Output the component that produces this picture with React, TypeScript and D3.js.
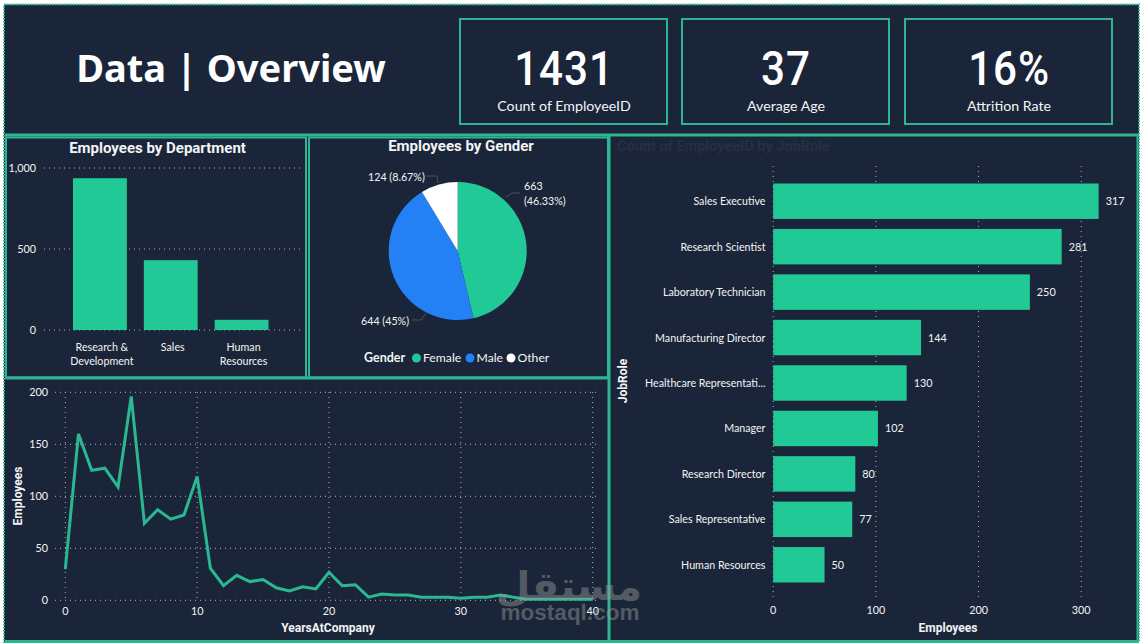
// Employee overview dashboard drawn with D3 scales and shapes
import React, { useEffect } from 'react';
import * as d3 from 'd3';

const kpiValues = ['1431', '37', '16%'];
const kpiLabels = ['Count of EmployeeID', 'Average Age', 'Attrition Rate'];

const departments = ['Research & Development', 'Sales', 'Human Resources'];
const departmentCounts = [937, 431, 63];
const departmentTicks = [0, 500, 1000];

const genders = ['Female', 'Male', 'Other'];
const genderCounts = [663, 644, 124];
const genderColors = ['#21c997', '#2481f5', '#ffffff'];

const years = d3.range(0, 41);
const yearCounts = [
  30, 160, 125, 127, 109, 196, 74, 87, 78, 82, 119, 31, 14, 24, 18, 20, 12, 9, 13, 11, 27,
  14, 15, 3, 6, 5, 5, 3, 3, 3, 2, 3, 3, 5, 3, 1, 1, 1, 1, 1, 1,
];
const yearXTicks = [0, 10, 20, 30, 40];
const yearYTicks = [0, 50, 100, 150, 200];

const jobRoles = [
  'Sales Executive',
  'Research Scientist',
  'Laboratory Technician',
  'Manufacturing Director',
  'Healthcare Representati...',
  'Manager',
  'Research Director',
  'Sales Representative',
  'Human Resources',
];
const jobRoleCounts = [317, 281, 250, 144, 130, 102, 80, 77, 50];
const jobRoleTicks = [0, 100, 200, 300];

const BG = '#1b2539';
const BORDER = '#2db592';
const BAR = '#21c997';
const GRID = '#aeb4bd';
const TEXT = '#f2f4f5';
const UI_FONT = 'Lato, "Open Sans", sans-serif';
const DIN_FONT = 'Roboto, "Noto Sans", sans-serif';

const App: React.FC = () => {
  useEffect(() => {
    document.body.style.margin = '0';
    document.body.style.background = '#ffffff';
  }, []);

  // Department bars
  const deptX = d3.scaleBand<string>().domain(departments).range([73, 268.5]).paddingInner(0.24).paddingOuter(0);
  const deptY = d3.scaleLinear().domain([0, 1000]).range([330, 168]);
  const deptLines: Record<string, string[]> = {
    'Research & Development': ['Research &', 'Development'],
    Sales: ['Sales'],
    'Human Resources': ['Human', 'Resources'],
  };

  // Gender pie
  const pieCx = 457.7;
  const pieCy = 251;
  const pieR = 69;
  const arc = d3.arc<d3.PieArcDatum<number>>().innerRadius(0).outerRadius(pieR);
  const slices = d3.pie<number>().sort(null)(genderCounts);

  // Tenure line
  const lineX = d3.scaleLinear().domain([0, 40]).range([65.3, 592.7]);
  const lineY = d3.scaleLinear().domain([0, 200]).range([600.3, 392.3]);
  const tenurePath = d3
    .line<number>()
    .x((d) => lineX(d))
    .y((_, i) => lineY(yearCounts[i]))(years);

  // Job role bars
  const roleX = d3.scaleLinear().domain([0, 300]).range([773.2, 1081.2]);
  const roleY = d3.scaleBand<string>().domain(jobRoles).range([178.5, 587.5]).paddingInner(0.22).paddingOuter(0.11);

  const cardX = [460, 682, 905];

  return (
    <svg
      width={1141}
      height={643}
      style={{ display: 'block', position: 'absolute', left: 0, top: 0 }}
      fontFamily={UI_FONT}
    >
      <rect x={0} y={0} width={1141} height={643} fill="#ffffff" />
      <rect x={4} y={4.5} width={1135} height={638} fill={BG} stroke={BORDER} strokeWidth={2} strokeDasharray="1.5 1.5" />

      {/* Header */}
      <text x={231} y={82} textAnchor="middle" fontSize={38} fontWeight={700} fill="#ffffff" fontFamily='"Noto Sans", sans-serif'>
        Data | Overview
      </text>
      {cardX.map((x, i) => (
        <g key={kpiLabels[i]}>
          <rect x={x} y={19} width={207} height={105} fill="none" stroke={BORDER} strokeWidth={2} />
          <text
            transform={`translate(${x + 104},85) scale(0.88,1)`}
            textAnchor="middle"
            fontSize={48}
            fontWeight={500}
            letterSpacing={1}
            fill="#ffffff"
            fontFamily={DIN_FONT}
          >
            {kpiValues[i]}
          </text>
          <text x={x + 104} y={111} textAnchor="middle" fontSize={14.2} fill={TEXT}>
            {kpiLabels[i]}
          </text>
        </g>
      ))}

      {/* Panel frames */}
      <g fill="none" stroke={BORDER} strokeWidth={2}>
        <line x1={5} x2={1139} y1={135} y2={135} strokeWidth={3} />
        <rect x={6} y={137.5} width={300} height={240} />
        <rect x={309} y={137.5} width={299} height={240} />
        <line x1={5} x2={609} y1={378} y2={378} strokeWidth={3} />
        <line x1={609} x2={609} y1={135} y2={641} strokeWidth={3} />
        <line x1={5} x2={1139} y1={641.5} y2={641.5} strokeWidth={3} />
      </g>

      {/* Employees by Department */}
      <text x={157.5} y={153} textAnchor="middle" fontSize={15} fontWeight={700} fill={TEXT} fontFamily={DIN_FONT}>
        Employees by Department
      </text>
      {departmentTicks.map((t) => (
        <g key={t}>
          <line x1={44} x2={300} y1={deptY(t)} y2={deptY(t)} stroke={GRID} strokeWidth={1} strokeDasharray="1 4" />
          <text x={36} y={deptY(t) + 4} textAnchor="end" fontSize={10.8} fill={TEXT}>
            {d3.format(',')(t)}
          </text>
        </g>
      ))}
      {departments.map((d, i) => (
        <g key={d}>
          <rect x={deptX(d)} y={deptY(departmentCounts[i])} width={deptX.bandwidth()} height={deptY(0) - deptY(departmentCounts[i])} fill={BAR} />
          {deptLines[d].map((ln, j) => (
            <text key={ln} x={deptX(d)! + deptX.bandwidth() / 2 + 2} y={351 + j * 14} textAnchor="middle" fontSize={10.7} fill={TEXT}>
              {ln}
            </text>
          ))}
        </g>
      ))}

      {/* Employees by Gender */}
      <text x={461} y={151} textAnchor="middle" fontSize={15} fontWeight={700} fill={TEXT} fontFamily={DIN_FONT}>
        Employees by Gender
      </text>
      <g transform={`translate(${pieCx},${pieCy})`}>
        {slices.map((s, i) => (
          <path key={genders[i]} d={arc(s) ?? ''} fill={genderColors[i]} />
        ))}
      </g>
      <g fill="none" stroke="#4a5364" strokeWidth={1}>
        <path d={d3.line()([[506, 197], [512, 193], [520, 193]]) ?? ''} />
        <path d={d3.line()([[427, 312], [421, 320], [412, 320]]) ?? ''} />
        <path d={d3.line()([[438, 183], [437, 176], [426, 176]]) ?? ''} />
      </g>
      <g fontSize={10.7} fill={TEXT}>
        <text x={524} y={190}>{genderCounts[0]}</text>
        <text x={524} y={205}>(46.33%)</text>
        <text x={361} y={325}>{genderCounts[1]} (45%)</text>
        <text x={368} y={181}>{genderCounts[2]} (8.67%)</text>
      </g>
      <text x={364} y={362} fontSize={12.5} fontWeight={700} fill={TEXT}>
        Gender
      </text>
      {genders.map((g, i) => {
        const dotX = [416.5, 470, 511][i];
        return (
          <g key={g}>
            <circle cx={dotX} cy={358} r={4.5} fill={genderColors[i]} />
            <text x={dotX + 6.5} y={362} fontSize={12.2} fill={TEXT}>
              {g}
            </text>
          </g>
        );
      })}

      {/* Tenure line */}
      {yearYTicks.map((t) => (
        <g key={t}>
          <line x1={55} x2={598} y1={lineY(t)} y2={lineY(t)} stroke={GRID} strokeDasharray="1 4" />
          <text x={48} y={lineY(t) + 4} textAnchor="end" fontSize={10.8} fill={TEXT}>
            {t}
          </text>
        </g>
      ))}
      {yearXTicks.map((t) => (
        <g key={t}>
          <line x1={lineX(t)} x2={lineX(t)} y1={392} y2={600} stroke={GRID} strokeDasharray="1 4" />
          <text x={lineX(t)} y={614.5} textAnchor="middle" fontSize={10.8} fill={TEXT}>
            {t}
          </text>
        </g>
      ))}
      <path d={tenurePath ?? ''} fill="none" stroke="#2ab892" strokeWidth={3} strokeLinejoin="miter" />
      <text x={328} y={632} textAnchor="middle" fontSize={12} fontWeight={700} fill={TEXT} fontFamily={DIN_FONT}>
        YearsAtCompany
      </text>
      <text transform="translate(22,496) rotate(-90)" textAnchor="middle" fontSize={12} fontWeight={700} fill={TEXT} fontFamily={DIN_FONT}>
        Employees
      </text>

      {/* Job role bars */}
      <text x={617} y={151} fontSize={14.5} fontWeight={700} fill="#262f41" fontFamily={DIN_FONT}>
        Count of EmployeeID by JobRole
      </text>
      {jobRoleTicks.map((t) => (
        <g key={t}>
          <line x1={roleX(t)} x2={roleX(t)} y1={166} y2={597} stroke={GRID} strokeDasharray="1 4" />
          <text x={roleX(t)} y={614} textAnchor="middle" fontSize={10.8} fill={TEXT}>
            {t}
          </text>
        </g>
      ))}
      {jobRoles.map((r, i) => {
        const y = roleY(r)!;
        const h = roleY.bandwidth();
        return (
          <g key={r}>
            <rect x={roleX(0)} y={y} width={roleX(jobRoleCounts[i]) - roleX(0)} height={h} fill={BAR} />
            <text x={765.5} y={y + h / 2 + 4} textAnchor="end" fontSize={10.7} fill={TEXT}>
              {r}
            </text>
            <text x={roleX(jobRoleCounts[i]) + 7} y={y + h / 2 + 4} fontSize={10.8} fill={TEXT}>
              {jobRoleCounts[i]}
            </text>
          </g>
        );
      })}
      <text transform="translate(627,381) rotate(-90)" textAnchor="middle" fontSize={12} fontWeight={700} fill={TEXT} fontFamily={DIN_FONT}>
        JobRole
      </text>
      <text x={948} y={632} textAnchor="middle" fontSize={12} fontWeight={700} fill={TEXT} fontFamily={DIN_FONT}>
        Employees
      </text>

      {/* Right edge frame */}
      <line x1={1137.5} x2={1137.5} y1={135} y2={641} stroke={BORDER} strokeWidth={2} />

      {/* Watermark */}
      <g fill="#9a9a9a" opacity={0.45} textAnchor="middle">
        <text x={569} y={600} fontSize={40} fontWeight={700} fontFamily='"DejaVu Sans", sans-serif'>
          مستقل
        </text>
        <text x={570} y={620} fontSize={22.5} fontWeight={700} fontFamily='"Liberation Sans", sans-serif'>
          mostaql.com
        </text>
      </g>
    </svg>
  );
};

export default App;
